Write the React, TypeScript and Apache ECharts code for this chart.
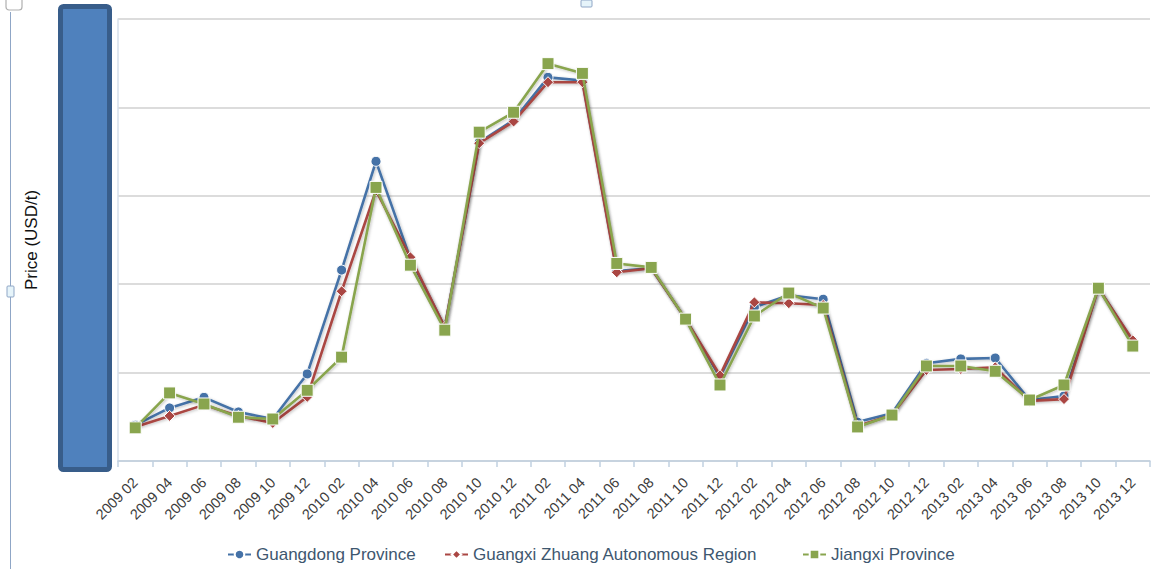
import React, { useEffect, useRef } from "react";
import * as echarts from "echarts";

const categories = [
  "2009 02", "2009 04", "2009 06", "2009 08", "2009 10", "2009 12",
  "2010 02", "2010 04", "2010 06", "2010 08", "2010 10", "2010 12",
  "2011 02", "2011 04", "2011 06", "2011 08", "2011 10", "2011 12",
  "2012 02", "2012 04", "2012 06", "2012 08", "2012 10", "2012 12",
  "2013 02", "2013 04", "2013 06", "2013 08", "2013 10", "2013 12",
];

const guangdong = [
  405, 600, 720, 555, 475, 985, 2160, 3390, 2290, 1515,
  3605, 3855, 4340, 4305, 2150, 2180, 1605, 950, 1740, 1875,
  1830, 440, 540, 1105, 1155, 1165, 690, 735, 1955, 1355,
];

const guangxi = [
  385, 510, 635, 510, 430, 725, 1920, 3060, 2305, 1515,
  3595, 3840, 4285, 4285, 2135, 2180, 1605, 970, 1795, 1785,
  1765, 395, 520, 1030, 1040, 1060, 680, 700, 1955, 1365,
];

const jiangxi = [
  375, 770, 645, 495, 475, 800, 1175, 3095, 2215, 1480,
  3720, 3945, 4495, 4385, 2235, 2190, 1605, 860, 1640, 1900,
  1730, 385, 520, 1075, 1075, 1015, 690, 860, 1955, 1300,
];

const seriesNames = [
  "Guangdong Province",
  "Guangxi Zhuang Autonomous Region",
  "Jiangxi Province",
];
const seriesColors = ["#4572A7", "#AA4643", "#89A54E"];
const seriesSymbols = ["circle", "diamond", "rect"];
const seriesSizes = [10, 11, 12];
const seriesData = [guangdong, guangxi, jiangxi];
const legendLefts = [222, 439, 797];

const FONT = '"Liberation Sans", Arial, Helvetica, sans-serif';

export default function App() {
  const ref = useRef<HTMLDivElement>(null);

  useEffect(() => {
    if (!ref.current) return;
    const chart = echarts.init(ref.current, null, { renderer: "svg" });
    chart.setOption({
      animation: false,
      backgroundColor: "#ffffff",
      textStyle: { fontFamily: FONT },
      grid: { left: 118, right: 9, top: 19, bottom: 108, containLabel: false },
      legend: seriesNames.map((n, i) => ({
        data: [n],
        left: legendLefts[i],
        top: 541,
        itemWidth: 23,
        itemHeight: 12,
        itemGap: 0,
        textStyle: { color: "#3E576F", fontSize: 17, fontFamily: FONT },
      })),
      xAxis: {
        type: "category",
        data: categories,
        boundaryGap: true,
        axisLine: { show: true, lineStyle: { color: "#C0D0E0", width: 1.5 } },
        axisTick: {
          show: true,
          alignWithLabel: false,
          length: 6,
          lineStyle: { color: "#C0D0E0", width: 1.5 },
        },
        axisLabel: {
          rotate: 45,
          interval: 0,
          margin: 19,
          color: "#3c3c3c",
          fontSize: 14.5,
          fontFamily: FONT,
        },
        splitLine: { show: false },
      },
      yAxis: {
        type: "value",
        min: 0,
        max: 5000,
        interval: 1000,
        name: "Price (USD/t)",
        nameLocation: "middle",
        nameGap: 78,
        nameRotate: 90,
        nameTextStyle: { color: "#111", fontSize: 17, fontFamily: FONT },
        axisLine: { show: true, lineStyle: { color: "#D6DFEA", width: 1.5 } },
        axisTick: { show: false },
        axisLabel: { show: false },
        splitLine: { show: true, lineStyle: { color: "#D0D0D0", width: 1.6 } },
      },
      series: seriesNames.map((n, i) => ({
        name: n,
        type: "line",
        data: seriesData[i],
        symbol: seriesSymbols[i],
        symbolSize: seriesSizes[i],
        showSymbol: true,
        color: seriesColors[i],
        lineStyle: {
          color: seriesColors[i],
          width: 2.6,
          shadowColor: "rgba(0,0,0,0.25)",
          shadowBlur: 3,
          shadowOffsetX: 1,
          shadowOffsetY: 1,
        },
        itemStyle: {
          color: seriesColors[i],
          borderColor: "#ffffff",
          borderWidth: 1,
        },
        z: 2 + i,
      })),
      graphic: [
        {
          type: "line",
          shape: { x1: 10.5, y1: 12, x2: 10.5, y2: 569 },
          style: { stroke: "#8FA6C6", lineWidth: 1 },
          z: 100,
        },
        {
          type: "rect",
          shape: { x: 6, y: -6, width: 16, height: 16, r: 3 },
          style: { fill: "#ffffff", stroke: "#B0B0B0", lineWidth: 1.2 },
          z: 101,
        },
        {
          type: "rect",
          shape: { x: 7, y: 286, width: 7, height: 11, r: 1 },
          style: { fill: "#E6F4FA", stroke: "#8FA6C6", lineWidth: 1 },
          z: 101,
        },
        {
          type: "rect",
          shape: { x: 581, y: 0, width: 11, height: 7, r: 1 },
          style: { fill: "#E6F4FA", stroke: "#8FA6C6", lineWidth: 1 },
          z: 101,
        },
        {
          type: "rect",
          shape: { x: 60.5, y: 6.5, width: 49, height: 463, r: 3 },
          style: { fill: "#4F81BD", stroke: "#385D8A", lineWidth: 5 },
          z: 100,
        },
      ],
    });
    return () => chart.dispose();
  }, []);

  return (
    <div
      ref={ref}
      style={{ position: "fixed", left: 0, top: 0, width: 1159, height: 569 }}
    />
  );
}
